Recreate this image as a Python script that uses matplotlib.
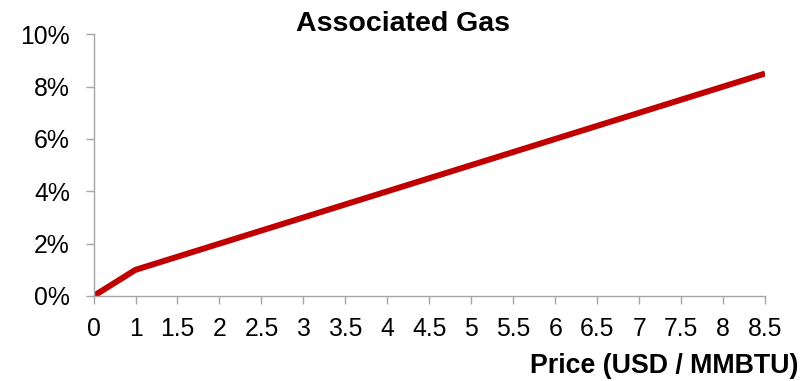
import matplotlib
matplotlib.use("Agg")
import matplotlib.pyplot as plt
from matplotlib.ticker import FuncFormatter

plt.rcParams['font.family'] = ['Liberation Sans', 'DejaVu Sans']

# price categories (USD / MMBTU) and share of associated gas
prices = ["0", "1", "1.5", "2", "2.5", "3", "3.5", "4", "4.5", "5",
          "5.5", "6", "6.5", "7", "7.5", "8", "8.5"]
share = [0.0, 0.01, 0.015, 0.02, 0.025, 0.03, 0.035, 0.04, 0.045, 0.05,
         0.055, 0.06, 0.065, 0.07, 0.075, 0.08, 0.085]

grey = "#A6A6A6"

fig = plt.figure(figsize=(8.07, 3.81), dpi=100)
ax = fig.add_axes([0.1159, 0.2231, 0.948 - 0.1159, 0.91 - 0.2231])

x = list(range(len(prices)))
ax.plot(x, share, color="#C00000", linewidth=4.3, solid_capstyle="butt")

ax.set_xlim(0, len(prices) - 1)
ax.set_ylim(0, 0.10)
ax.set_xticks(x)
ax.set_xticklabels(prices)
ax.set_yticks([0, 0.02, 0.04, 0.06, 0.08, 0.10])
ax.yaxis.set_major_formatter(FuncFormatter(lambda v, p: "%d%%" % round(v * 100)))

for s in ["top", "right"]:
    ax.spines[s].set_visible(False)
for s in ["left", "bottom"]:
    ax.spines[s].set_color(grey)
    ax.spines[s].set_linewidth(1.0)

ax.tick_params(axis="both", direction="out", length=6, width=1.0, color=grey,
               labelsize=17.8, labelcolor="black")
ax.tick_params(axis="y", pad=11)
ax.tick_params(axis="x", pad=9)

fig.text(0.5, 0.937, "Associated Gas", ha="center", va="center",
         fontsize=20.5, fontweight="bold")
fig.text(0.989, 0.04, "Price (USD / MMBTU)", ha="right", va="center",
         fontsize=19.3, fontweight="bold")

fig.savefig("out.png", dpi=100)
